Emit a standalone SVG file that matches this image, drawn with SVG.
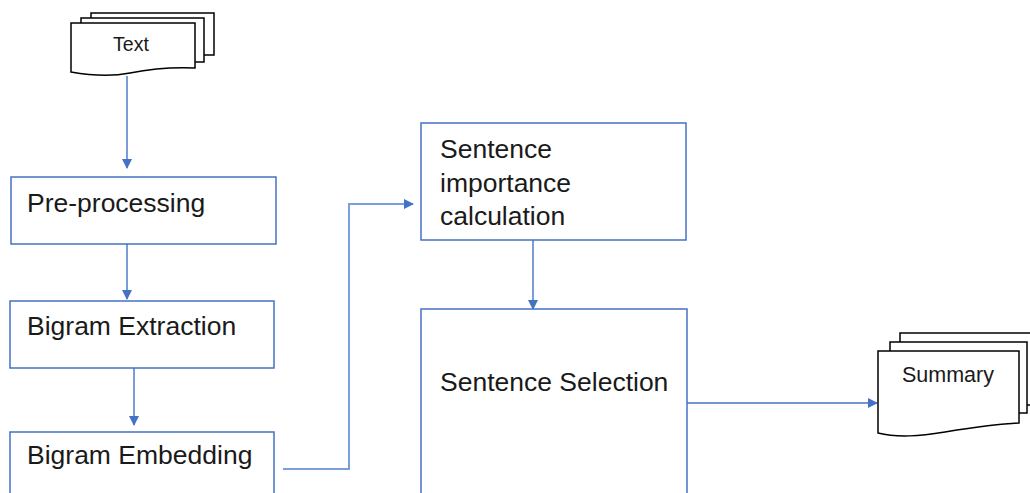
<svg xmlns="http://www.w3.org/2000/svg" width="1030" height="493" viewBox="0 0 1030 493">
<style>
.box{fill:#fff;stroke:#4472C4;stroke-width:1.5}
.doc{fill:#fff;stroke:#000;stroke-width:1.5}
.lbl{font-family:"Liberation Sans",Arial,sans-serif;fill:#1a1a1a;font-size:26.5px}
.dl{font-family:"Liberation Sans",Arial,sans-serif;fill:#1a1a1a;font-size:19.5px}
.con{fill:none;stroke:#4472C4;stroke-width:1.4}
</style>
<defs>
<marker id="ah" markerWidth="10" markerHeight="10" refX="9" refY="5" orient="auto" markerUnits="userSpaceOnUse">
<path d="M0,0 L10,5 L0,10 Z" fill="#4472C4"/>
</marker>
</defs>
<g id="connectors">
<path class="con" d="M127,76 V168" marker-end="url(#ah)"/>
<path class="con" d="M127,244 V299" marker-end="url(#ah)"/>
<path class="con" d="M134,368 V425" marker-end="url(#ah)"/>
<path class="con" d="M283,469 H349 V204 H413" marker-end="url(#ah)" style="stroke:#7A9FDB;stroke-width:2"/>
<path class="con" d="M533,240 V309" marker-end="url(#ah)"/>
<path class="con" d="M687,403 H877" marker-end="url(#ah)"/>
</g>
<g id="text-doc">
<rect class="doc" x="91" y="13" width="123" height="42"/>
<rect class="doc" x="81" y="18" width="123" height="44"/>
<path class="doc" d="M71,23 H195 V68 C172,67 150,69 130,73 C110,77 88,75 71,72 Z"/>
<text class="dl" x="131" y="51" text-anchor="middle">Text</text>
</g>
<g id="preprocessing">
<rect class="box" x="11" y="177" width="265" height="67"/>
<text class="lbl" x="27" y="212">Pre-processing</text>
</g>
<g id="bigram-extraction">
<rect class="box" x="10" y="301" width="264" height="67"/>
<text class="lbl" x="27" y="335">Bigram Extraction</text>
</g>
<g id="bigram-embedding">
<rect class="box" x="10" y="432" width="264" height="70"/>
<text class="lbl" x="27" y="464">Bigram Embedding</text>
</g>
<g id="sentence-importance">
<rect class="box" x="421" y="123" width="265" height="117"/>
<text class="lbl" x="440" y="158">Sentence</text>
<text class="lbl" x="440" y="192">importance</text>
<text class="lbl" x="440" y="225">calculation</text>
</g>
<g id="sentence-selection">
<rect class="box" x="421" y="309" width="266" height="200"/>
<text class="lbl" x="440" y="391">Sentence Selection</text>
</g>
<g id="summary-doc">
<rect class="doc" x="900" y="333" width="140" height="72"/>
<rect class="doc" x="890" y="342" width="137" height="71"/>
<path class="doc" d="M878,351 H1019 V423 C995,424 970,428 945,432 C920,436 898,438 878,433 Z"/>
<text class="dl" x="948" y="382" text-anchor="middle" style="font-size:21.5px">Summary</text>
</g>
</svg>
